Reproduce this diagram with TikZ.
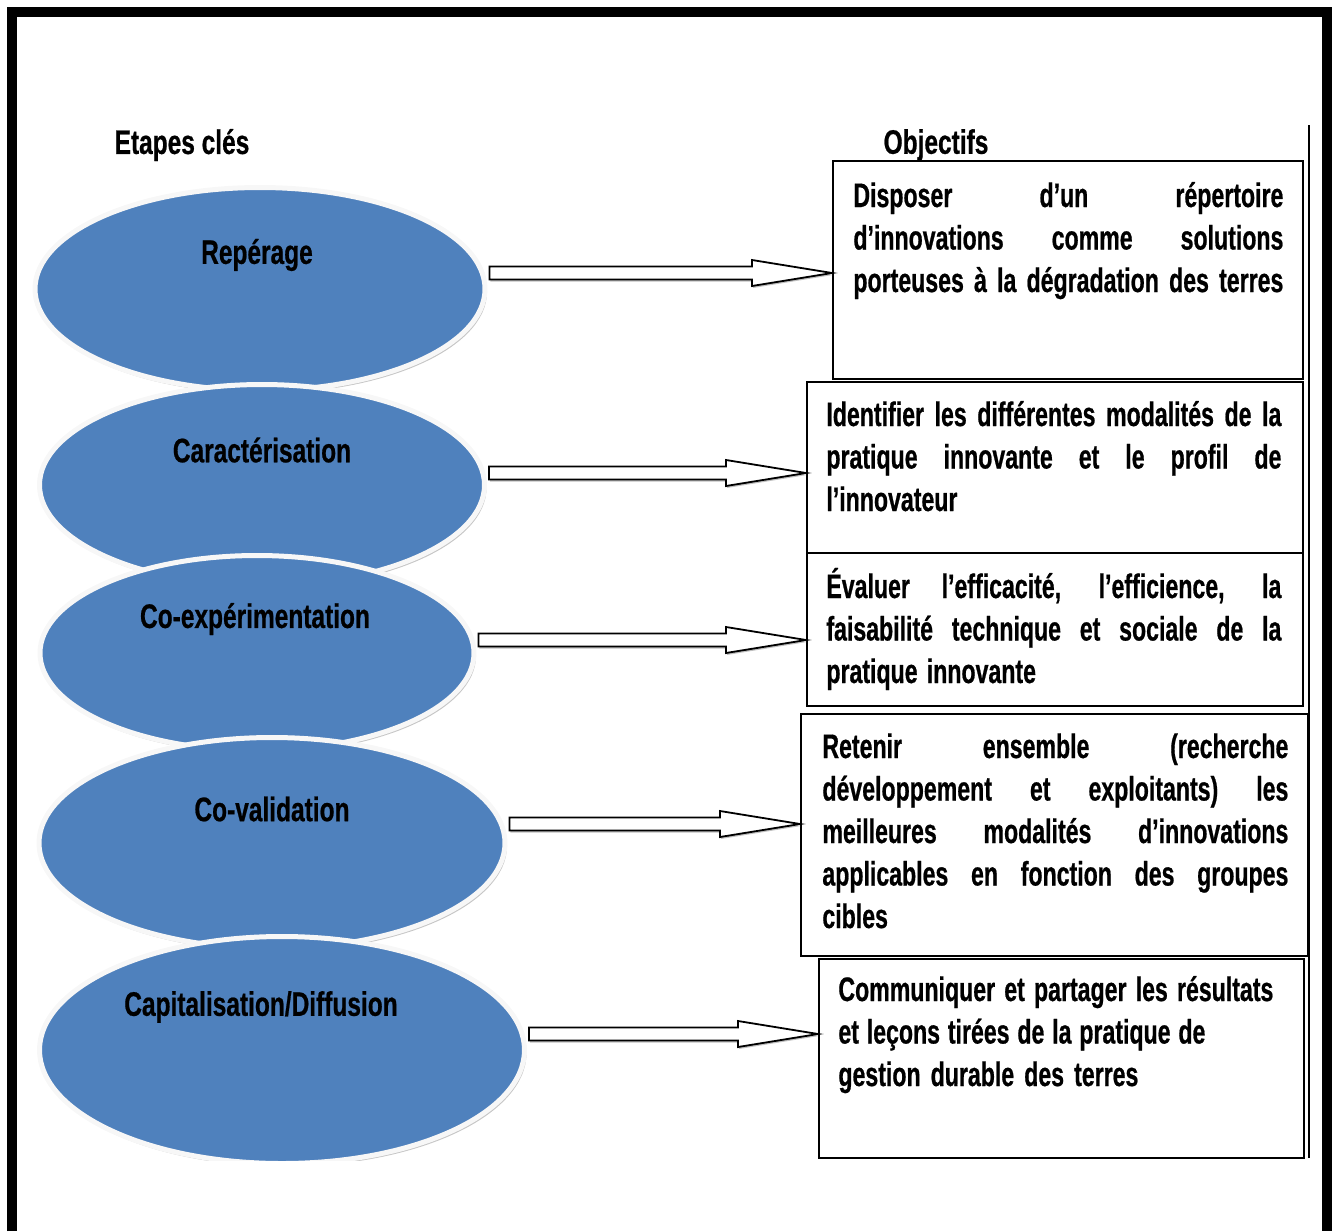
\documentclass[tikz,border=0pt]{standalone}
\usepackage{fontspec}
\setmainfont{Liberation Sans}[UprightFont={* Bold}, BoldFont={* Bold}, FakeStretch=0.72, FakeBold=0.6]
\newfontfamily\objfont{Liberation Sans}[UprightFont={* Bold}, BoldFont={* Bold}, FakeStretch=0.68, FakeBold=0.6]
\usetikzlibrary{calc}
\usetikzlibrary{shapes.geometric}
\usetikzlibrary{shadows}
\definecolor{etapeblue}{RGB}{79,129,189}
\tikzstyle{etape} = [ellipse, draw=gray!6, line width=2.5pt, fill=etapeblue, inner sep=0, drop shadow={shadow xshift=1pt, shadow yshift=-1.5pt, opacity=0.5, fill=black!45}]
\tikzstyle{etapelbl} = [inner sep=0]
\tikzstyle{objbox} = [draw, rectangle, line width=1.1pt, anchor=north west, inner sep=0, fill=white]
\tikzstyle{objtext} = [anchor=base west, inner sep=0, align=left, font=\objfont\fontsize{17pt}{21.25pt}\selectfont]
\tikzstyle{fleche} = [draw=black, fill=white, line width=0.9pt, drop shadow={shadow xshift=0.4pt, shadow yshift=-1pt, opacity=0.5, fill=black!50},
  to path={let \p1=(\tikztostart), \p2=(\tikztotarget) in
    (\x1,\y1+3.25pt) -- (\x2-40pt,\y1+3.25pt) -- (\x2-40pt,\y1+6.5pt) -- (\x2,\y1)
    -- (\x2-40pt,\y1-6.5pt) -- (\x2-40pt,\y1-3.25pt) -- (\x1,\y1-3.25pt) -- cycle}]
% one justified line of a given width
\newcommand{\jl}[2]{\makebox[#1][s]{\spaceskip=0.25em plus 1fil minus 0.1em\relax #2}}
\newcommand{\nl}[1]{{\spaceskip=0.27em\relax #1}}
\begin{document}
\begin{tikzpicture}[x=0.5pt, y=-0.5pt, font=\fontsize{17pt}{21.25pt}\selectfont]
\useasboundingbox (0,0) rectangle (1338,1231);

% titles
\node[etapelbl] (etapes) at (182,145) {Etapes clés};
\node[etapelbl] (objectifs) at (936,145) {Objectifs};

% key steps
\begin{scope}
\clip (0,0) rectangle (1338,1160);
\node[etape, minimum width=225pt, minimum height=101.5pt] (rep) at (260,289) {};
\node[etape, minimum width=222.5pt, minimum height=100.5pt] (car) at (262,485) {};
\node[etape, minimum width=217pt, minimum height=97.5pt] (coe) at (257,653) {};
\node[etape, minimum width=233pt, minimum height=105.5pt] (cov) at (272,843) {};
\node[etape, minimum width=242.5pt, minimum height=113.5pt] (cap) at (282,1050) {};
\end{scope}
\node[etapelbl] (rep-t) at (257,255) {Repérage};
\node[etapelbl] (car-t) at (262,450) {Caractérisation};
\node[etapelbl] (coe-t) at (255,619) {Co-expérimentation};
\node[etapelbl] (cov-t) at (272,809) {Co-validation};
\node[etapelbl] (cap-t) at (261,1007) {Capitalisation/Diffusion};

% objectives
\draw[line width=0.8pt] (1309,125) -- (1309,1158);
\node[objbox, minimum width=235pt, minimum height=109pt] (obj1) at (832,160) {};
\node[objbox, minimum width=248pt, minimum height=85.5pt] (obj2) at (806,381) {};
\node[objbox, minimum width=248pt, minimum height=76.5pt] (obj3) at (806,552) {};
\node[objbox, minimum width=253.5pt, minimum height=121pt] (obj4) at (800,713) {};
\node[objbox, minimum width=242.5pt, minimum height=99.5pt] (obj5) at (818,958) {};

\node[objtext, text width=215pt] (obj1-t) at (853,207)
{\jl{215pt}{Disposer d’un répertoire}\\ \jl{215pt}{d’innovations comme solutions}\\ \jl{215pt}{porteuses à la dégradation des terres}};
\node[objtext, text width=227.5pt] (obj2-t) at (826,426)
{\jl{227.5pt}{Identifier les différentes modalités de la}\\ \jl{227.5pt}{pratique innovante et le profil de}\\ l’innovateur};
\node[objtext, text width=227.5pt] (obj3-t) at (826,598)
{\jl{227.5pt}{Évaluer l’efficacité, l’efficience, la}\\ \jl{227.5pt}{faisabilité technique et sociale de la}\\ \nl{pratique innovante}};
\node[objtext, text width=233pt] (obj4-t) at (822,758)
{\jl{233pt}{Retenir ensemble (recherche}\\ \jl{233pt}{développement et exploitants) les}\\ \jl{233pt}{meilleures modalités d’innovations}\\ \jl{233pt}{applicables en fonction des groupes}\\ cibles};
\node[objtext, text width=217.5pt] (obj5-t) at (838,1001)
{\jl{217.5pt}{Communiquer et partager les résultats}\\ \jl{183.5pt}{et leçons tirées de la pratique de}\\ \jl{150pt}{gestion durable des terres}};

% arrows
\draw[fleche] ([xshift=1pt,yshift=8pt]rep.east) to (obj1.west);
\draw[fleche] ([xshift=1pt,yshift=6pt]car.east) to (obj2.west);
\draw[fleche] ([xshift=1pt,yshift=6.5pt]coe.east) to (obj3.west);
\draw[fleche] ([xshift=1pt,yshift=9.5pt]cov.east) to (obj4.west);
\draw[fleche] ([xshift=1pt,yshift=8pt]cap.east) to (obj5.west);

% frame
\draw[line width=5pt, line join=miter] (12,1231) -- (12,11.5) -- (1326.5,11.5) -- (1326.5,1231);
\end{tikzpicture}
\end{document}
